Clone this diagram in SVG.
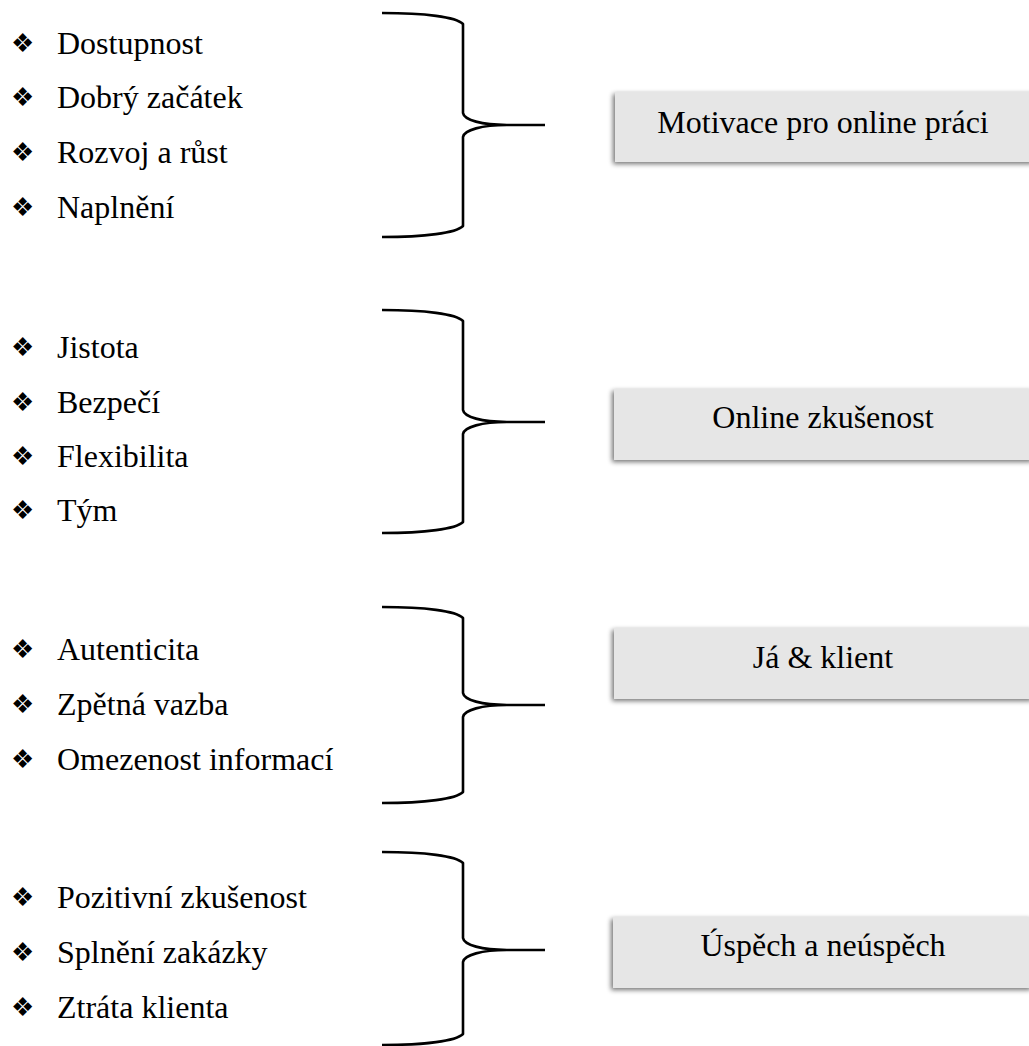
<svg xmlns="http://www.w3.org/2000/svg" width="1029" height="1046" viewBox="0 0 1029 1046">
<defs>
<filter id="shadow" x="-10%" y="-30%" width="120%" height="160%">
<feGaussianBlur in="SourceAlpha" stdDeviation="2.5"/>
<feOffset dx="-2" dy="2" result="b"/>
<feComponentTransfer><feFuncA type="linear" slope="0.55"/></feComponentTransfer>
<feMerge><feMergeNode/><feMergeNode in="SourceGraphic"/></feMerge>
</filter>
</defs>
<style>
.item{font-family:"Liberation Serif","Times New Roman",serif;font-size:32px;fill:#000}
.bul{font-family:"DejaVu Sans",sans-serif;font-size:26px;fill:#000}
.box rect{fill:#e6e6e6;filter:url(#shadow)}
.box text{font-family:"Liberation Serif","Times New Roman",serif;font-size:32px;fill:#000;text-anchor:middle}
.brace{fill:none;stroke:#000;stroke-width:2.6;stroke-linecap:butt;stroke-linejoin:round}
</style>
<rect width="1029" height="1046" fill="#fff"/>

<g id="list1">
<text class="bul" x="11" y="52">❖</text><text class="item" x="57" y="54">Dostupnost</text>
<text class="bul" x="11" y="106">❖</text><text class="item" x="57" y="108">Dobrý začátek</text>
<text class="bul" x="11" y="161">❖</text><text class="item" x="57" y="163">Rozvoj a růst</text>
<text class="bul" x="11" y="216">❖</text><text class="item" x="57" y="218">Naplnění</text>
</g>
<g id="list2">
<text class="bul" x="11" y="356">❖</text><text class="item" x="57" y="358">Jistota</text>
<text class="bul" x="11" y="411">❖</text><text class="item" x="57" y="413">Bezpečí</text>
<text class="bul" x="11" y="465">❖</text><text class="item" x="57" y="467">Flexibilita</text>
<text class="bul" x="11" y="519">❖</text><text class="item" x="57" y="521">Tým</text>
</g>
<g id="list3">
<text class="bul" x="11" y="658">❖</text><text class="item" x="57" y="660">Autenticita</text>
<text class="bul" x="11" y="713">❖</text><text class="item" x="57" y="715">Zpětná vazba</text>
<text class="bul" x="11" y="768">❖</text><text class="item" x="57" y="770">Omezenost informací</text>
</g>
<g id="list4">
<text class="bul" x="11" y="906">❖</text><text class="item" x="57" y="908">Pozitivní zkušenost</text>
<text class="bul" x="11" y="961">❖</text><text class="item" x="57" y="963">Splnění zakázky</text>
<text class="bul" x="11" y="1016">❖</text><text class="item" x="57" y="1018">Ztráta klienta</text>
</g>

<g id="connectors">
<path class="brace" d="M382,13 C425,13 456,17 463,24 L463,113 C464,120 482,125 507,125 L545,125 M507,125 C482,125 464,130 463,137 L463,226 C456,233 425,237 382,237"/>
<path class="brace" d="M382,310 C425,310 456,314 463,321 L463,410 C464,417 482,422 507,422 L545,422 M507,422 C482,422 464,427 463,434 L463,522 C456,529 425,533 382,533"/>
<path class="brace" d="M382,607 C425,607 456,611 463,618 L463,693 C464,700 482,705 507,705 L545,705 M507,705 C482,705 464,710 463,717 L463,792 C456,799 425,803 382,803"/>
<path class="brace" d="M382,852 C425,852 456,856 463,863 L463,938 C464,945 482,950 507,950 L545,950 M507,950 C482,950 464,955 463,962 L463,1034 C456,1041 425,1045 382,1045"/>
</g>

<g id="box1" class="box"><rect x="615" y="92" width="420" height="70"/><text x="823" y="133">Motivace pro online práci</text></g>
<g id="box2" class="box"><rect x="614" y="389" width="420" height="71"/><text x="823" y="428">Online zkušenost</text></g>
<g id="box3" class="box"><rect x="614" y="628" width="420" height="71"/><text x="823" y="668">Já &amp; klient</text></g>
<g id="box4" class="box"><rect x="613" y="917" width="420" height="71"/><text x="823" y="956">Úspěch a neúspěch</text></g>
</svg>
